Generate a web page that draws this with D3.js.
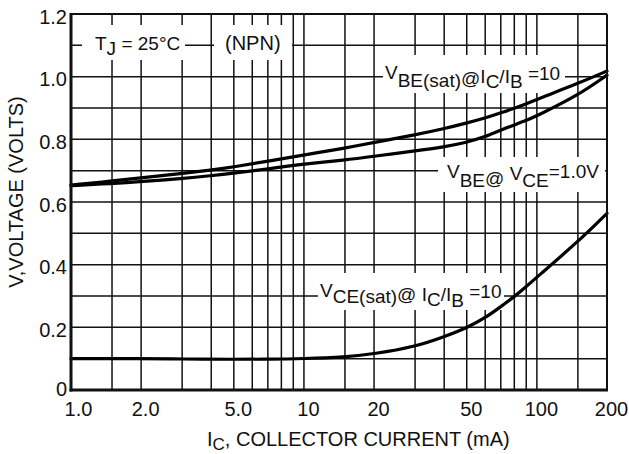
<!DOCTYPE html>
<html>
<head>
<meta charset="utf-8">
<script src="https://cdn.jsdelivr.net/npm/d3@7"></script>
<style>
  html, body { margin: 0; padding: 0; background: #fff; }
  svg { display: block; }
  text { font-family: "Liberation Sans", Arial, Helvetica, sans-serif; fill: #111; }
</style>
</head>
<body>
<svg id="chart" width="629" height="454"></svg>
<script>
// ---- data ----
const IC_VBESAT = [1, 1.5, 2, 3, 4, 5, 7, 10, 15, 20, 30, 40, 50, 60, 70, 90, 100, 150, 200];
const VBE_SAT   = [0.654, 0.667, 0.677, 0.691, 0.702, 0.712, 0.730, 0.750, 0.772, 0.790, 0.814, 0.834, 0.852, 0.868, 0.884, 0.913, 0.928, 0.978, 1.018];

const IC_VBE = [1, 1.5, 2, 3, 4, 5, 7, 10, 15, 20, 30, 40, 50, 60, 70, 90, 100, 150, 200];
const VBE    = [0.652, 0.659, 0.665, 0.675, 0.684, 0.692, 0.706, 0.721, 0.734, 0.746, 0.763, 0.776, 0.790, 0.808, 0.830, 0.860, 0.875, 0.940, 1.005];

const IC_VCESAT = [1, 2, 3, 5, 7, 10, 15, 20, 30, 40, 50, 60, 70, 80, 90, 100, 150, 200];
const VCE_SAT   = [0.100, 0.100, 0.099, 0.098, 0.098, 0.100, 0.105, 0.115, 0.138, 0.170, 0.198, 0.230, 0.266, 0.298, 0.330, 0.360, 0.473, 0.564];

const X_TICKS = [1, 2, 5, 10, 20, 50, 100, 200];
const X_TICK_LABELS = ["1.0", "2.0", "5.0", "10", "20", "50", "100", "200"];
const Y_TICKS = [0, 0.2, 0.4, 0.6, 0.8, 1.0, 1.2];
const Y_TICK_LABELS = ["0", "0.2", "0.4", "0.6", "0.8", "1.0", "1.2"];
const X_GRID = [1.5, 2, 3, 4, 5, 6, 7, 8, 9, 10, 15, 20, 30, 40, 50, 60, 70, 80, 90, 100, 150];
const Y_GRID = [0.1, 0.2, 0.3, 0.4, 0.5, 0.6, 0.7, 0.8, 0.9, 1.0, 1.1];

// ---- scales ----
const svg = d3.select("#chart");
const x = d3.scaleLog().domain([1, 200]).range([71, 607]);
const y = d3.scaleLinear().domain([0, 1.2]).range([390, 14]);

// ---- grid ----
const grid = svg.append("g").attr("stroke", "#111").attr("stroke-width", 1.5);
grid.selectAll("line.v").data(X_GRID).join("line").attr("class", "v")
  .attr("x1", d => x(d)).attr("x2", d => x(d)).attr("y1", y(1.2)).attr("y2", y(0));
grid.selectAll("line.h").data(Y_GRID).join("line").attr("class", "h")
  .attr("x1", x(1)).attr("x2", x(200)).attr("y1", d => y(d)).attr("y2", d => y(d));

// ---- white label backgrounds (break the grid) ----
const boxes = [
  [82, 25, 103, 35],
  [214, 25, 78, 35],
  [383, 55, 182, 38],
  [438, 157, 167, 35],
  [318, 273, 186, 37]
];
svg.append("g").selectAll("rect").data(boxes).join("rect")
  .attr("x", d => d[0]).attr("y", d => d[1]).attr("width", d => d[2]).attr("height", d => d[3])
  .attr("fill", "#fff");

// ---- rich text helper ----
function rich(px, py, parts, size) {
  const t = svg.append("text").attr("x", px).attr("y", py).attr("font-size", size || 19);
  parts.forEach(p => {
    const s = t.append("tspan").attr("dy", p[1]).text(p[0]);
    if (p[2]) s.attr("font-size", p[2]);
  });
  return t;
}

rich(95, 50, [["T", 0], ["J", 5], [" = 25°C", -5]]);
rich(225, 50, [["(NPN)", 0]], 20);
rich(385, 79, [["V", 0], ["BE(sat)", 8], ["@", -2], ["I", -2], ["C", 5], ["/I", -5], ["B", 5], [" =10", -8]]);
rich(447, 178, [["V", 0], ["BE", 9], ["@ ", -2], ["V", -5], ["CE", 7], ["=1.0V", -9]]);
rich(320, 297, [["V", 0], ["CE(sat)", 6], ["@ ", -2], ["I", 0], ["C", 5], ["/I", -5], ["B", 6], [" =10", -9]]);

// ---- curves ----
const line = d3.line().x(d => x(d[0])).y(d => y(d[1])).curve(d3.curveBasis);
const series = [
  d3.zip(IC_VBESAT, VBE_SAT),
  d3.zip(IC_VBE, VBE),
  d3.zip(IC_VCESAT, VCE_SAT)
];
svg.append("g").selectAll("path").data(series).join("path")
  .attr("d", line).attr("fill", "none").attr("stroke", "#000")
  .attr("stroke-width", 3.2).attr("stroke-linejoin", "round").attr("stroke-linecap", "round");

// ---- frame ----
svg.append("line").attr("x1", x(1)).attr("x2", x(200)).attr("y1", y(1.2)).attr("y2", y(1.2))
  .attr("stroke", "#111").attr("stroke-width", 2);
svg.append("line").attr("x1", x(200)).attr("x2", x(200)).attr("y1", y(1.2)).attr("y2", y(0))
  .attr("stroke", "#111").attr("stroke-width", 2);

// ---- axes ----
const xAxis = d3.axisBottom(x).tickValues(X_TICKS)
  .tickFormat((d, i) => X_TICK_LABELS[i]).tickSize(0).tickPadding(0);
const gx = svg.append("g").attr("transform", `translate(0,${y(0)})`).call(xAxis);
gx.select(".domain").attr("stroke", "#111").attr("stroke-width", 3).attr("d", `M${x(1) - 1.5},0H${x(200) + 1}`);
gx.selectAll("text").attr("font-size", 20).attr("fill", "#111")
  .attr("font-family", "Liberation Sans, Arial, sans-serif")
  .attr("dx", d => d === 1 ? 7 : 4).attr("dy", 0).attr("y", 26);

const yAxis = d3.axisLeft(y).tickValues(Y_TICKS)
  .tickFormat((d, i) => Y_TICK_LABELS[i]).tickSize(0).tickPadding(0);
const gy = svg.append("g").attr("transform", `translate(${x(1)},0)`).call(yAxis);
gy.select(".domain").attr("stroke", "#111").attr("stroke-width", 3).attr("d", `M0,${y(1.2) - 1}V${y(0) + 1.5}`);
gy.selectAll("text").attr("font-size", 20).attr("fill", "#111")
  .attr("font-family", "Liberation Sans, Arial, sans-serif")
  .attr("x", -4).attr("dy", 0).attr("y", d => d === 0 ? 5 : 9);

// ---- axis titles ----
rich(207, 446, [["I", 0], ["C", 4, 17], [", COLLECTOR CURRENT (mA)", -4]], 20);
svg.append("text").attr("transform", "translate(23,192) rotate(-90)")
  .attr("text-anchor", "middle").attr("font-size", 20).text("V,VOLTAGE (VOLTS)");
</script>
</body>
</html>
